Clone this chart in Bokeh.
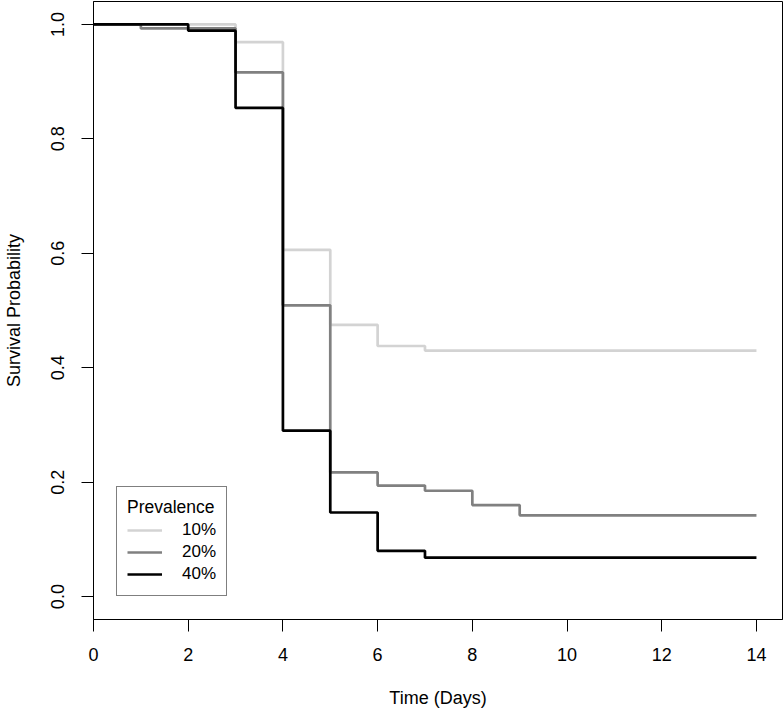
from bokeh.plotting import figure
from bokeh.models import Range1d, FixedTicker, NumeralTickFormatter, Legend, LegendItem
from bokeh.embed import file_html
from bokeh.resources import INLINE

# Kaplan-Meier step curves (time in days, survival probability)
t_10 = [0, 3, 4, 5, 6, 7, 14]
s_10 = [1.0, 0.969, 0.606, 0.475, 0.438, 0.430, 0.430]

t_20 = [0, 1, 3, 4, 5, 6, 7, 8, 9, 14]
s_20 = [1.0, 0.993, 0.916, 0.509, 0.217, 0.194, 0.185, 0.160, 0.142, 0.142]

t_40 = [0, 2, 3, 4, 5, 6, 7, 14]
s_40 = [1.0, 0.989, 0.854, 0.290, 0.147, 0.080, 0.068, 0.068]

series_labels = ["10%", "20%", "40%"]
series_colors = ["#d3d3d3", "#808080", "#000000"]
x_ticks = [0, 2, 4, 6, 8, 10, 12, 14]
y_ticks = [0.0, 0.2, 0.4, 0.6, 0.8, 1.0]

FONT = "Liberation Sans"

p = figure(width=783, height=715, output_backend="svg", toolbar_location=None,
           x_range=Range1d(0, 14.55), y_range=Range1d(-0.04, 1.04),
           min_border_left=91, min_border_right=1, min_border_top=1, min_border_bottom=96)

p.xgrid.visible = False
p.ygrid.visible = False
p.outline_line_color = "black"
p.outline_line_width = 1
p.background_fill_color = "white"
p.border_fill_color = "white"

renderers = []
for tx, sy, col in zip([t_10, t_20, t_40], [s_10, s_20, s_40], series_colors):
    r = p.step(tx, sy, mode="after", line_color=col, line_width=2.7)
    renderers.append(r)

# axes
for ax in (p.xaxis[0], p.yaxis[0]):
    ax.axis_line_color = "black"
    ax.major_tick_line_color = "black"
    ax.major_tick_out = 12
    ax.major_tick_in = 0
    ax.minor_tick_line_color = None
    ax.major_label_text_font = FONT
    ax.major_label_text_font_size = "18px"
    ax.major_label_text_color = "black"
    ax.axis_label_text_font = FONT
    ax.axis_label_text_font_size = "18px"
    ax.axis_label_text_font_style = "normal"
    ax.axis_label_text_color = "black"

p.xaxis.ticker = FixedTicker(ticks=x_ticks)
p.yaxis.ticker = FixedTicker(ticks=y_ticks)
p.yaxis.formatter = NumeralTickFormatter(format="0.0")
p.yaxis.major_label_orientation = "vertical"
p.xaxis.axis_label = "Time (Days)"
p.yaxis.axis_label = "Survival Probability"
p.xaxis.major_label_standoff = 16
p.xaxis.axis_label_standoff = 24
p.yaxis.major_label_standoff = 17
p.yaxis.axis_label_standoff = 25

legend = Legend(items=[LegendItem(label=lab, renderers=[r]) for lab, r in zip(series_labels, renderers)],
                location=(23, 23), title="Prevalence")
legend.title_text_font = FONT
legend.title_text_font_size = "17.5px"
legend.title_text_font_style = "normal"
legend.title_text_color = "black"
legend.title_standoff = 1
legend.label_text_font = FONT
legend.label_text_font_size = "17px"
legend.label_text_color = "black"
legend.label_height = 22
legend.glyph_height = 22
legend.glyph_width = 35
legend.label_standoff = 20
legend.spacing = 0
legend.padding = 10
legend.margin = 0
legend.border_line_color = "black"
legend.border_line_width = 1
legend.background_fill_alpha = 1.0
p.add_layout(legend, "center")

open("out.html", "w").write(file_html(p, INLINE))
